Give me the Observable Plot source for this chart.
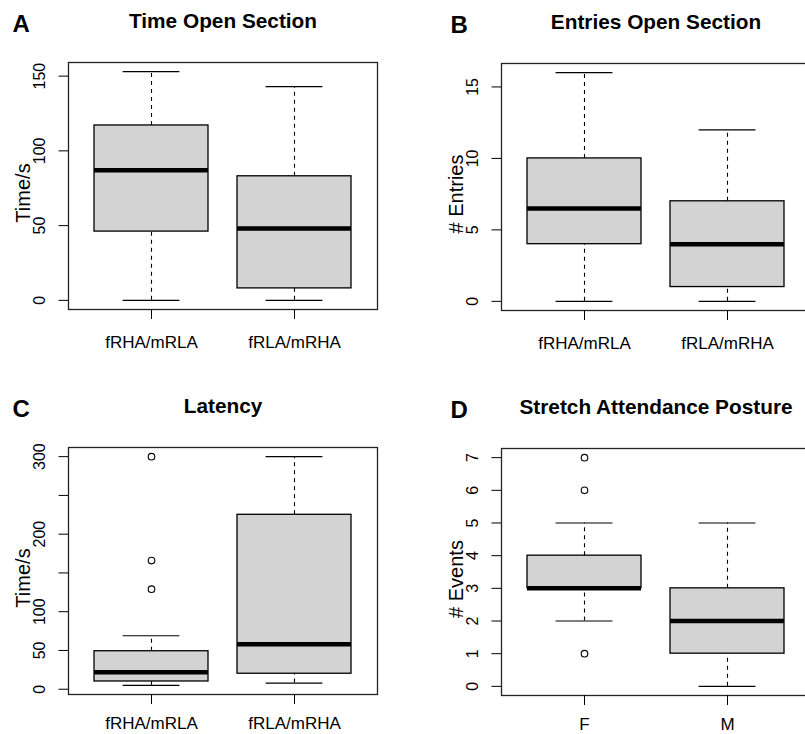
<!DOCTYPE html>
<html>
<head>
<meta charset="utf-8">
<script src="https://cdn.jsdelivr.net/npm/d3@7"></script>
<script src="https://cdn.jsdelivr.net/npm/@observablehq/plot@0.6"></script>
<style>
  html, body { margin: 0; padding: 0; background: #fff; overflow: hidden; }
  #wrap { position: relative; width: 805px; height: 734px; overflow: hidden; background: #fff; }
  .panel { position: absolute; width: 402px; height: 367px; }
  .panel svg { max-width: none !important; }
</style>
</head>
<body>
<div id="wrap"></div>
<script>
// ---------- data ----------
const catsGroup = ["fRHA/mRLA", "fRLA/mRHA"];
const catsSex = ["F", "M"];

// A: Time Open Section
const lowA = [0, 0];
const q1A = [46, 8];
const medA = [87, 48];
const q3A = [117, 83];
const highA = [153, 143];
const ticksA = [0, 50, 100, 150];

// B: Entries Open Section
const lowB = [0, 0];
const q1B = [4, 1];
const medB = [6.5, 4];
const q3B = [10, 7];
const highB = [16, 12];
const ticksB = [0, 5, 10, 15];

// C: Latency
const lowC = [5, 8];
const q1C = [10, 20];
const medC = [22, 58];
const q3C = [49, 225];
const highC = [69, 300];
const outCcat = ["fRHA/mRLA", "fRHA/mRLA", "fRHA/mRLA"];
const outCval = [300, 166, 129];
const ticksC = [0, 50, 100, 150, 200, 250, 300];
const labelsC = [0, 50, 100, 200, 300];

// D: Stretch Attendance Posture
const lowD = [2, 0];
const q1D = [3, 1];
const medD = [3, 2];
const q3D = [4, 3];
const highD = [5, 5];
const outDcat = ["F", "F", "F"];
const outDval = [7, 6, 1];
const ticksD = [0, 1, 2, 3, 4, 5, 6, 7];

const panels = [
  {letter: "A", title: "Time Open Section", ylab: "Time/s", cats: catsGroup,
   low: lowA, q1: q1A, med: medA, q3: q3A, high: highA, outCat: [], outVal: [],
   ticks: ticksA, labels: ticksA, left: 0, top: 0, bottom: false},
  {letter: "B", title: "Entries Open Section", ylab: "# Entries", cats: catsGroup,
   low: lowB, q1: q1B, med: medB, q3: q3B, high: highB, outCat: [], outVal: [],
   ticks: ticksB, labels: ticksB, left: 433, top: 1, bottom: false},
  {letter: "C", title: "Latency", ylab: "Time/s", cats: catsGroup,
   low: lowC, q1: q1C, med: medC, q3: q3C, high: highC, outCat: outCcat, outVal: outCval,
   ticks: ticksC, labels: labelsC, left: 0, top: 385, bottom: true},
  {letter: "D", title: "Stretch Attendance Posture", ylab: "# Events", cats: catsSex,
   low: lowD, q1: q1D, med: medD, q3: q3D, high: highD, outCat: outDcat, outVal: outDval,
   ticks: ticksD, labels: ticksD, left: 433, top: 386, bottom: true}
];

const FONT = "'Liberation Sans', Arial, Helvetica, sans-serif";
const W = 402, H = 367, ML = 68, MR = 25, MT = 62, MB = 58;

function makePanel(p) {
  const rows = p.cats.map((c, i) => ({cat: c, low: p.low[i], q1: p.q1[i], med: p.med[i], q3: p.q3[i], high: p.high[i]}));
  const outs = p.outVal.map((v, i) => ({cat: p.outCat[i], value: v}));
  const all = [...p.low, ...p.high, ...p.outVal];
  const mn = d3.min(all), mx = d3.max(all), pad = (mx - mn) * 0.04;
  const capInset = 28.6;
  return Plot.plot({
    width: W, height: H,
    marginLeft: ML, marginRight: MR, marginTop: MT, marginBottom: MB,
    style: {fontFamily: FONT, color: "black", background: "transparent", overflow: "visible", maxWidth: "none"},
    x: {type: "band", domain: p.cats, paddingInner: 0.2, paddingOuter: 0.18},
    y: {domain: [mn - pad, mx + pad]},
    marks: [
      Plot.ruleX(rows, {x: "cat", y1: "q3", y2: "high", stroke: "black", strokeWidth: 1.1, strokeDasharray: "4,4"}),
      Plot.ruleX(rows, {x: "cat", y1: "low", y2: "q1", stroke: "black", strokeWidth: 1.1, strokeDasharray: "4,4"}),
      Plot.barY(rows, {x: "cat", y1: "q1", y2: "q3", fill: "#d3d3d3", stroke: "black", strokeWidth: 1.3}),
      Plot.tickY(rows, {x: "cat", y: "med", stroke: "black", strokeWidth: 4.5}),
      Plot.tickY(rows, {x: "cat", y: "high", stroke: "black", strokeWidth: 1.2, insetLeft: capInset, insetRight: capInset}),
      Plot.tickY(rows, {x: "cat", y: "low", stroke: "black", strokeWidth: 1.2, insetLeft: capInset, insetRight: capInset}),
      Plot.dot(outs, {x: "cat", y: "value", r: 3.3, stroke: "black", strokeWidth: 1.1, fill: "none"}),
      Plot.frame({stroke: "#222", strokeWidth: 1.3}),
      Plot.axisY({ticks: p.ticks, tickSize: 9.5, tickPadding: 14.5, tickRotate: -90, fontSize: 16,
        tickFormat: d => p.labels.includes(d) ? String(d) : "", label: null}),
      Plot.axisX({tickSize: 10, tickPadding: p.bottom ? 12 : 16, fontSize: 17, label: null}),
      Plot.text([p.ylab], {text: d => d, frameAnchor: "left", rotate: -90, dx: -53, dy: 7,
        textAnchor: "middle", lineAnchor: "top", fontSize: 20, fill: "black"}),
      Plot.text([p.title], {text: d => d, frameAnchor: "top", dy: -35, lineAnchor: "bottom",
        fontSize: 20.8, fontWeight: "bold", fill: "black"}),
      Plot.text([p.letter], {text: d => d, frameAnchor: "top-left", dx: p.left ? -51 : -56, dy: -30.5,
        textAnchor: "start", lineAnchor: "bottom", fontSize: 24, fontWeight: "bold", fill: "black"})
    ]
  });
}

const wrap = document.getElementById("wrap");
for (const p of panels) {
  const div = document.createElement("div");
  div.className = "panel";
  div.style.left = p.left + "px";
  div.style.top = p.top + "px";
  div.appendChild(makePanel(p));
  wrap.appendChild(div);
}
</script>
</body>
</html>
